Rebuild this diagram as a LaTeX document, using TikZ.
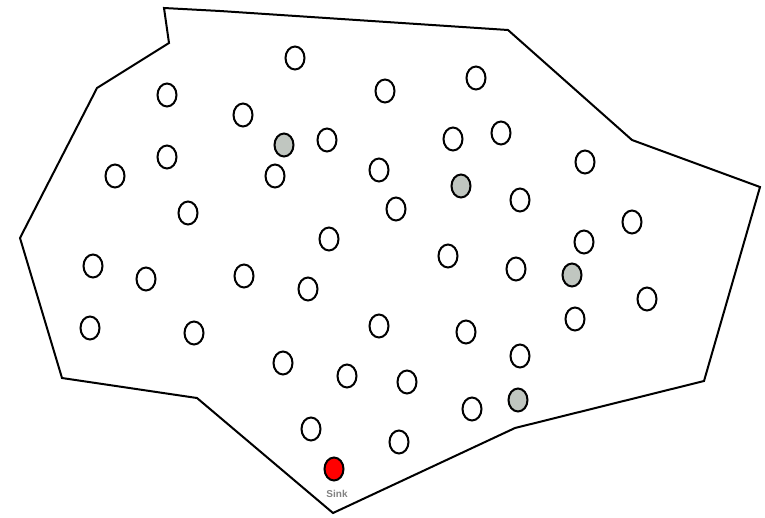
\documentclass[tikz,border=0pt]{standalone}
\usepackage{fontspec}
\setmainfont{Liberation Sans}
\usetikzlibrary{shapes.geometric}
\definecolor{headgray}{RGB}{192,198,192}
\definecolor{labelgray}{RGB}{130,130,130}
\tikzset{
  sensor/.style={ellipse, draw=black, line width=2pt, fill=white, minimum width=19pt, minimum height=23pt, inner sep=0pt},
  head/.style={sensor, fill=headgray},
  sinknode/.style={sensor, fill=red},
  field/.style={draw=black, line width=2pt, line join=miter},
  sinklabel/.style={text=labelgray, font=\fontsize{10}{11}\selectfont\bfseries, inner sep=0pt}
}
\begin{document}
\begin{tikzpicture}[x=1pt,y=-1pt]
\useasboundingbox (0,0) rectangle (765,517);
\draw[field] (164,8) -- (220,11) -- (508,30) -- (632,140) -- (760,187) -- (704,381)
  -- (515,428) -- (333,513) -- (197,398) -- (62,378) -- (20,238) -- (97,88)
  -- (169,43) -- cycle;
\node[sensor] (n1) at (295,58) {};
\node[sensor] (n2) at (167,95) {};
\node[sensor] (n3) at (243,115) {};
\node[sensor] (n4) at (385,91) {};
\node[sensor] (n5) at (476,78) {};
\node[head] (n6) at (284,145) {};
\node[sensor] (n7) at (327,140) {};
\node[sensor] (n8) at (453,139) {};
\node[sensor] (n9) at (501,133) {};
\node[sensor] (n10) at (167,157) {};
\node[sensor] (n11) at (115,176) {};
\node[sensor] (n12) at (275,176) {};
\node[sensor] (n13) at (379,170) {};
\node[head] (n14) at (461,186) {};
\node[sensor] (n15) at (585,162) {};
\node[sensor] (n16) at (188,213) {};
\node[sensor] (n17) at (396,209) {};
\node[sensor] (n18) at (520,200) {};
\node[sensor] (n19) at (632,222) {};
\node[sensor] (n20) at (329,239) {};
\node[sensor] (n21) at (448,256) {};
\node[sensor] (n22) at (584,242) {};
\node[sensor] (n23) at (93,266) {};
\node[sensor] (n24) at (146,279) {};
\node[sensor] (n25) at (244,276) {};
\node[sensor] (n26) at (308,289) {};
\node[sensor] (n27) at (516,269) {};
\node[head] (n28) at (572,275) {};
\node[sensor] (n29) at (647,299) {};
\node[sensor] (n30) at (90,328) {};
\node[sensor] (n31) at (194,333) {};
\node[sensor] (n32) at (379,326) {};
\node[sensor] (n33) at (466,332) {};
\node[sensor] (n34) at (575,319) {};
\node[sensor] (n35) at (520,356) {};
\node[sensor] (n36) at (283,363) {};
\node[sensor] (n37) at (347,376) {};
\node[sensor] (n38) at (407,382) {};
\node[sensor] (n39) at (472,409) {};
\node[head] (n40) at (518,400) {};
\node[sensor] (n41) at (311,429) {};
\node[sensor] (n42) at (399,442) {};
\node[sinknode] (sink) at (334,469) {};
\node[sinklabel] (sinktext) at (337,494) {Sink};
\end{tikzpicture}
\end{document}
